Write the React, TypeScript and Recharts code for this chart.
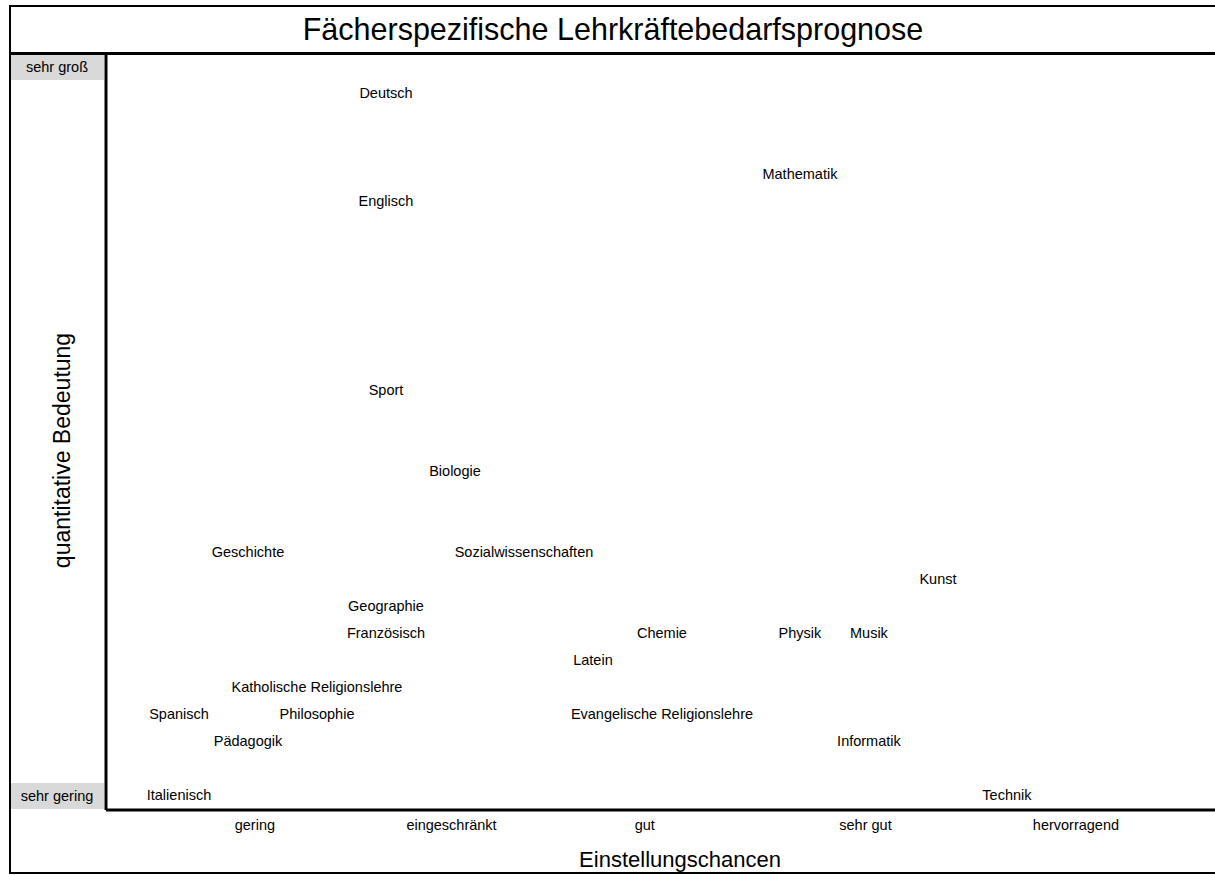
import { ScatterChart, Scatter, XAxis, YAxis, Label } from "recharts";

const subjects = [
  "Deutsch",
  "Mathematik",
  "Englisch",
  "Sport",
  "Biologie",
  "Geschichte",
  "Sozialwissenschaften",
  "Kunst",
  "Geographie",
  "Französisch",
  "Chemie",
  "Physik",
  "Musik",
  "Latein",
  "Katholische Religionslehre",
  "Spanisch",
  "Philosophie",
  "Evangelische Religionslehre",
  "Pädagogik",
  "Informatik",
  "Italienisch",
  "Technik",
];
// Einstellungschancen (Spalte im Raster)
const einstellung = [3, 9, 3, 3, 4, 1, 5, 11, 3, 3, 7, 9, 10, 6, 2, 0, 2, 7, 1, 10, 0, 12];
// quantitative Bedeutung (Zeile im Raster)
const bedeutung = [26, 23, 22, 15, 12, 9, 9, 8, 7, 6, 6, 6, 6, 5, 4, 3, 3, 3, 2, 2, 0, 0];

const chanceLabels = ["gering", "eingeschränkt", "gut", "sehr gut", "hervorragend"];
const chanceTicks = [1.1, 3.95, 6.75, 9.95, 13];

const bedeutungLabels = ["sehr gering", "sehr groß"];
const bedeutungTicks = [0, 27];

const data = subjects.map((name, i) => ({ name, x: einstellung[i], y: bedeutung[i] }));

const FONT = "'Liberation Sans', Arial, sans-serif";

const SubjectLabel = (props: any) => (
  <text
    x={props.cx}
    y={props.cy}
    textAnchor="middle"
    dominantBaseline="central"
    fontSize={14.5}
    fontFamily={FONT}
    fill="#000"
  >
    {props.payload.name}
  </text>
);

const XTick = (props: any) => {
  const idx = chanceTicks.indexOf(props.payload.value);
  return (
    <text
      x={props.x}
      y={props.y + 15}
      textAnchor="middle"
      dominantBaseline="central"
      fontSize={14.5}
      fontFamily={FONT}
      fill="#000"
    >
      {chanceLabels[idx]}
    </text>
  );
};

const YTick = (props: any) => {
  const idx = bedeutungTicks.indexOf(props.payload.value);
  return (
    <g>
      <rect x={10} y={props.y - 12} width={94} height={26} fill="#d9d9d9" />
      <text
        x={57}
        y={props.y + 1}
        textAnchor="middle"
        dominantBaseline="central"
        fontSize={14.5}
        fontFamily={FONT}
        fill="#000"
      >
        {bedeutungLabels[idx]}
      </text>
    </g>
  );
};

export default function App() {
  return (
    <div
      style={{
        position: "absolute",
        left: 0,
        top: 0,
        width: 1215,
        height: 875,
        overflow: "hidden",
        background: "#fff",
        fontFamily: FONT,
      }}
    >
      <div style={{ position: "absolute", left: 0, top: 0 }}>
        <ScatterChart
          width={1216}
          height={875}
          margin={{ top: 55, right: 0, bottom: 0, left: 0 }}
        >
          <XAxis
            type="number"
            dataKey="x"
            domain={[-1.058, 15.03]}
            ticks={chanceTicks}
            allowDataOverflow
            tick={<XTick />}
            tickLine={false}
            tickSize={0}
            tickMargin={0}
            axisLine={{ stroke: "#000", strokeWidth: 3 }}
            height={65}
          >
            <Label
              value="Einstellungschancen"
              position="insideBottom"
              offset={8}
              dx={19}
              fontSize={22}
              fontFamily={FONT}
              fill="#000"
            />
          </XAxis>
          <YAxis
            type="number"
            dataKey="y"
            domain={[-0.556, 27.407]}
            ticks={bedeutungTicks}
            allowDataOverflow
            tick={<YTick />}
            tickLine={false}
            tickSize={0}
            tickMargin={0}
            axisLine={{ stroke: "#000", strokeWidth: 3 }}
            width={106}
          >
            <Label
              value="quantitative Bedeutung"
              position="center"
              angle={-90}
              dx={9}
              dy={18}
              fontSize={23}
              fontFamily={FONT}
              fill="#000"
            />
          </YAxis>
          <Scatter data={data} shape={SubjectLabel} isAnimationActive={false} />
        </ScatterChart>
      </div>
      {/* Rahmen und Titelzeile */}
      <div
        style={{
          position: "absolute",
          left: 9,
          top: 5,
          width: 1230,
          height: 869,
          border: "2px solid #000",
          boxSizing: "border-box",
          pointerEvents: "none",
        }}
      />
      <div
        style={{
          position: "absolute",
          left: 9,
          top: 52,
          width: 1230,
          height: 3,
          background: "#000",
        }}
      />
      <div
        style={{
          position: "absolute",
          left: 11,
          top: 7,
          width: 1204,
          height: 45,
          display: "flex",
          alignItems: "center",
          justifyContent: "center",
          fontSize: 30.5,
          color: "#000",
        }}
      >
        Fächerspezifische Lehrkräftebedarfsprognose
      </div>
    </div>
  );
}
